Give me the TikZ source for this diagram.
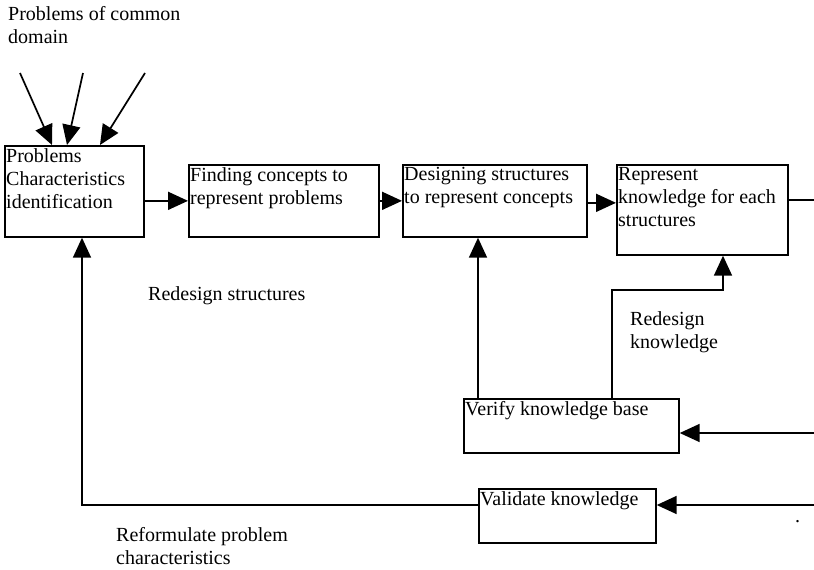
\documentclass[tikz,border=0pt]{standalone}
\usepackage{fontspec}
\setmainfont{Liberation Serif}
\usetikzlibrary{arrows.meta,calc}
\begin{document}
\begin{tikzpicture}[x=1pt,y=-1pt,
  every node/.style={font=\fontsize{20}{23}\selectfont},
  stepbox/.style={draw, line width=1.7pt, anchor=north west, inner sep=0pt},
  boxtext/.style={anchor=north west, align=left, inner sep=0pt, xshift=2pt, yshift=-3pt},
  free/.style={anchor=north west, align=left, inner sep=0pt},
  conn/.style={line width=1.7pt},
  arr/.style={conn, -{Triangle[length=20pt,width=18pt]}}]
\useasboundingbox (0,0) rectangle (814,570);
% boxes
\node[stepbox, minimum width=139pt, minimum height=91pt] (b1) at (4,145) {};
\node[boxtext] (t1) at (b1.north west) {Problems\\Characteristics\\identification};
\node[stepbox, minimum width=190pt, minimum height=72pt] (b2) at (188,164) {};
\node[boxtext] (t2) at (b2.north west) {Finding concepts to\\represent problems};
\node[stepbox, minimum width=184pt, minimum height=72pt] (b3) at (402,164) {};
\node[boxtext] (t3) at (b3.north west) {Designing structures\\to represent concepts};
\node[stepbox, minimum width=171pt, minimum height=90pt] (b4) at (616,164) {};
\node[boxtext] (t4) at (b4.north west) {Represent\\knowledge for each\\structures};
\node[stepbox, minimum width=215pt, minimum height=54pt] (v) at (463,398) {};
\node[boxtext] (tv) at (v.north west) {Verify knowledge base};
\node[stepbox, minimum width=177pt, minimum height=54pt] (w) at (478,488) {};
\node[boxtext] (tw) at (w.north west) {Validate knowledge};
% free texts
\node[free] (p) at (8,6) {Problems of common\\domain};
\node[free] (rs) at (148,286) {Redesign structures};
\node[free] (rk) at (630,311) {Redesign\\knowledge};
\node[free] (rf) at (116,527) {Reformulate problem\\characteristics};
\node[free] (dot) at (795,520) {.};
% free ends
\coordinate (s1) at (20,73);
\coordinate (s2) at (83,73);
\coordinate (s3) at (145,73);
\coordinate (e4) at (814,200);
\coordinate (ev) at (814,433);
\coordinate (ew) at (814,505);
% connectors
\draw[arr] (s1) -- ($(b1.north west)+(48,0)$);
\draw[arr] (s2) -- ($(b1.north west)+(63,0)$);
\draw[arr] (s3) -- ($(b1.north west)+(96,0)$);
\draw[arr] (b1.east |- b2.west) -- (b2.west);
\draw[arr] (b2.east) -- (b3.west);
\draw[arr] ($(b3.east)+(0,2)$) -- ($(b3.east -| b4.west)+(0,2)$);
\draw[conn] (b4.east |- e4) -- (e4);
\draw[arr] (ev) -- (v.east |- ev);
\draw[arr] (ew) -- (w.east |- ew);
\draw[arr] (v.north -| b3.south west) ++(76,0) coordinate (va) -- (va |- b3.south);
\draw[arr] ($(v.north west)+(149,0)$) -- ++(0,-108) -| ($(b4.south west)+(107,0)$);
\draw[arr] (w.west |- ew) -| ($(b1.south west)+(78,0)$);
\end{tikzpicture}
\end{document}
